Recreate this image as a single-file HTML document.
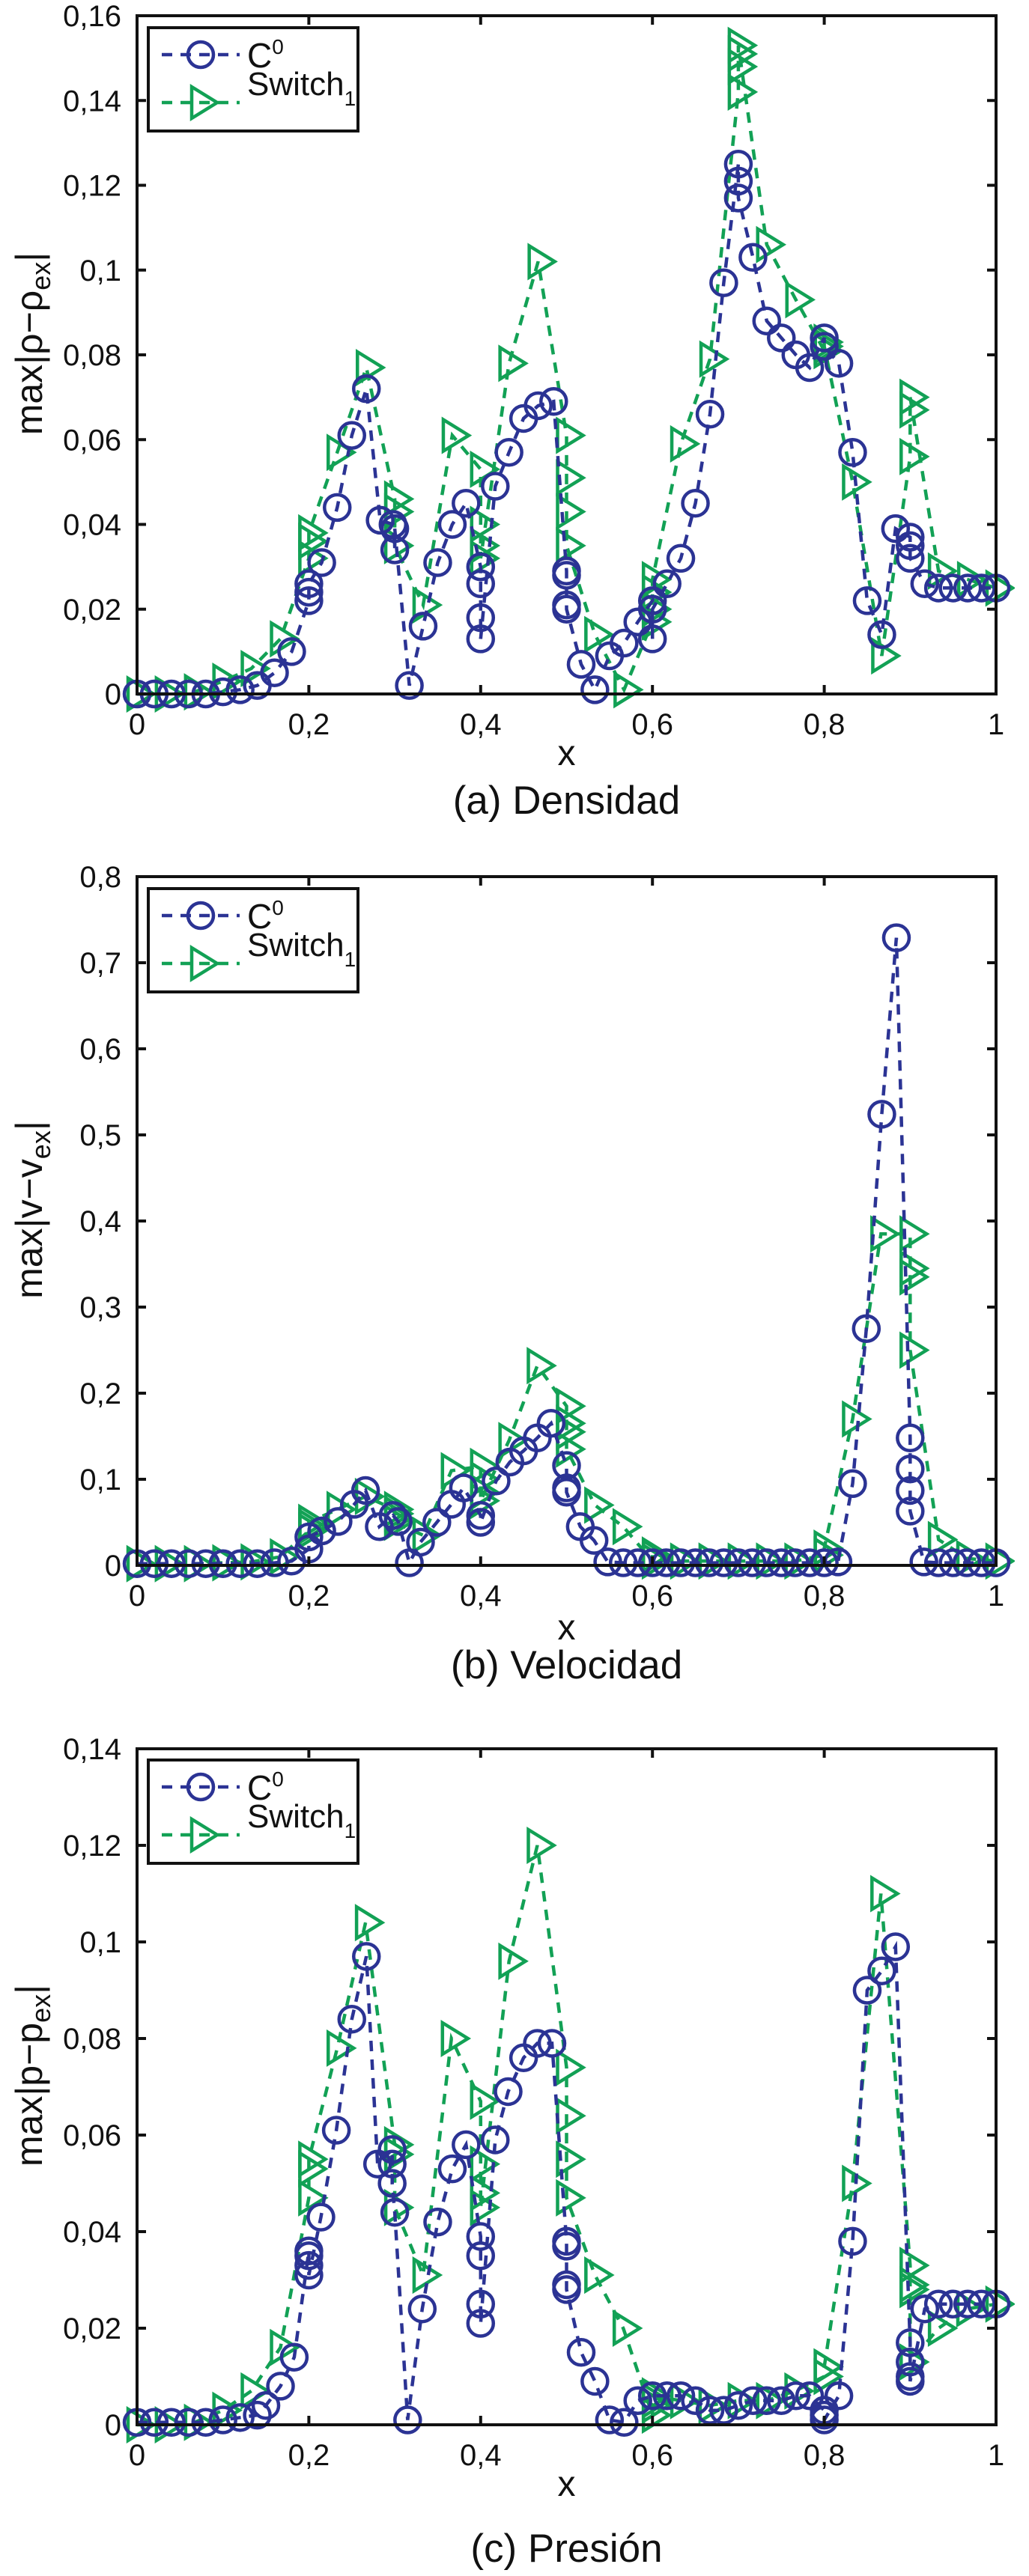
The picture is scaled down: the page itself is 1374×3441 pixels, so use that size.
<!DOCTYPE html>
<html><head><meta charset="utf-8">
<style>
html,body{margin:0;padding:0;background:#fff;}
svg{display:block;font-family:"Liberation Sans",sans-serif;}
</style></head>
<body>
<svg id="fig" width="1374" height="3441" viewBox="0 0 1374 3441" xmlns="http://www.w3.org/2000/svg"></svg>
<script>
// ---------- Plot (a) Densidad ----------
const aC0x=[0,0.02,0.04,0.06,0.08,0.1,0.12,0.14,0.16,0.18,0.2,0.2,0.2,0.215,0.233,0.25,0.267,0.283,0.298,0.3,0.3,0.317,0.333,0.35,0.367,0.383,0.4,0.4,0.4,0.4,0.417,0.433,0.45,0.467,0.485,0.5,0.5,0.5,0.5,0.517,0.533,0.55,0.567,0.583,0.6,0.6,0.6,0.617,0.633,0.65,0.667,0.683,0.7,0.7,0.7,0.717,0.733,0.75,0.767,0.783,0.8,0.8,0.817,0.833,0.85,0.867,0.883,0.9,0.9,0.9,0.917,0.933,0.95,0.967,0.983,1];
const aC0y=[0,0,0,0,0,0.0005,0.001,0.002,0.005,0.010,0.022,0.024,0.026,0.031,0.044,0.061,0.072,0.041,0.040,0.034,0.039,0.002,0.016,0.031,0.040,0.045,0.030,0.026,0.018,0.013,0.049,0.057,0.065,0.068,0.069,0.029,0.028,0.021,0.020,0.007,0.001,0.009,0.012,0.017,0.022,0.013,0.020,0.026,0.032,0.045,0.066,0.097,0.125,0.121,0.117,0.103,0.088,0.084,0.080,0.077,0.084,0.082,0.078,0.057,0.022,0.014,0.039,0.037,0.035,0.032,0.026,0.025,0.025,0.025,0.025,0.025];
const aSwx=[0,0.033,0.067,0.1,0.133,0.167,0.2,0.2,0.2,0.233,0.267,0.3,0.3,0.3,0.333,0.367,0.4,0.4,0.4,0.4,0.433,0.467,0.5,0.5,0.5,0.5,0.533,0.567,0.6,0.6,0.6,0.6,0.633,0.667,0.7,0.7,0.7,0.7,0.733,0.767,0.8,0.8,0.8,0.833,0.867,0.9,0.9,0.9,0.933,0.967,1];
const aSwy=[0,0,0.0005,0.003,0.006,0.013,0.032,0.036,0.038,0.057,0.077,0.046,0.043,0.035,0.021,0.061,0.053,0.040,0.035,0.032,0.078,0.102,0.061,0.051,0.043,0.035,0.014,0.001,0.017,0.020,0.024,0.027,0.059,0.079,0.142,0.148,0.151,0.153,0.106,0.093,0.081,0.083,0.082,0.050,0.009,0.056,0.067,0.070,0.029,0.027,0.025];
const aYTicks=[0,0.02,0.04,0.06,0.08,0.1,0.12,0.14,0.16];
const aYLabels=["0","0,02","0,04","0,06","0,08","0,1","0,12","0,14","0,16"];

// ---------- Plot (b) Velocidad ----------
const bC0x=[0,0.02,0.04,0.06,0.08,0.1,0.12,0.14,0.16,0.18,0.2,0.2,0.215,0.234,0.253,0.266,0.282,0.298,0.304,0.317,0.33,0.349,0.366,0.38,0.4,0.4,0.418,0.434,0.45,0.466,0.482,0.5,0.5,0.5,0.516,0.532,0.548,0.566,0.583,0.6,0.616,0.633,0.65,0.666,0.683,0.7,0.716,0.733,0.75,0.766,0.783,0.8,0.816,0.833,0.849,0.867,0.884,0.9,0.9,0.9,0.9,0.916,0.933,0.95,0.966,0.983,1];
const bC0y=[0.002,0.002,0.002,0.002,0.002,0.002,0.002,0.002,0.003,0.005,0.019,0.033,0.040,0.051,0.071,0.087,0.045,0.058,0.051,0.003,0.027,0.050,0.071,0.090,0.058,0.050,0.098,0.120,0.133,0.148,0.165,0.116,0.090,0.085,0.045,0.029,0.004,0.003,0.003,0.003,0.003,0.003,0.003,0.003,0.003,0.003,0.003,0.003,0.003,0.003,0.003,0.003,0.004,0.095,0.275,0.524,0.729,0.148,0.112,0.087,0.063,0.004,0.003,0.003,0.003,0.003,0.003];
const bSwx=[0,0.033,0.067,0.1,0.133,0.167,0.2,0.2,0.2,0.233,0.266,0.3,0.3,0.3,0.3,0.333,0.366,0.4,0.4,0.4,0.4,0.433,0.466,0.5,0.5,0.5,0.5,0.533,0.566,0.6,0.6,0.6,0.633,0.666,0.7,0.733,0.766,0.8,0.8,0.833,0.866,0.9,0.9,0.9,0.9,0.933,0.966,1];
const bSwy=[0.002,0.002,0.002,0.003,0.004,0.010,0.040,0.045,0.050,0.065,0.080,0.065,0.060,0.055,0.050,0.035,0.110,0.115,0.100,0.085,0.075,0.145,0.232,0.185,0.165,0.155,0.135,0.070,0.045,0.005,0.010,0.012,0.005,0.005,0.005,0.005,0.005,0.012,0.020,0.170,0.385,0.385,0.345,0.335,0.250,0.030,0.008,0.005];
const bYTicks=[0,0.1,0.2,0.3,0.4,0.5,0.6,0.7,0.8];
const bYLabels=["0","0,1","0,2","0,3","0,4","0,5","0,6","0,7","0,8"];

// ---------- Plot (c) Presión ----------
const cC0x=[0,0.02,0.04,0.06,0.08,0.1,0.12,0.14,0.15,0.167,0.183,0.2,0.2,0.2,0.2,0.214,0.232,0.25,0.267,0.28,0.297,0.297,0.297,0.3,0.315,0.332,0.35,0.367,0.383,0.4,0.4,0.4,0.4,0.417,0.432,0.45,0.466,0.483,0.5,0.5,0.5,0.5,0.517,0.533,0.55,0.567,0.583,0.6,0.617,0.633,0.65,0.667,0.683,0.7,0.717,0.733,0.75,0.767,0.783,0.8,0.8,0.8,0.817,0.833,0.85,0.867,0.883,0.9,0.9,0.9,0.9,0.917,0.933,0.95,0.967,0.983,1];
const cC0y=[0.0005,0.0005,0.0005,0.0005,0.0005,0.001,0.0015,0.002,0.004,0.008,0.014,0.036,0.035,0.033,0.031,0.043,0.061,0.084,0.097,0.054,0.057,0.054,0.050,0.044,0.001,0.024,0.042,0.053,0.058,0.039,0.035,0.025,0.021,0.059,0.069,0.076,0.079,0.079,0.038,0.037,0.029,0.028,0.015,0.009,0.001,0.0005,0.005,0.006,0.006,0.006,0.005,0.003,0.003,0.004,0.005,0.005,0.005,0.006,0.006,0.003,0.002,0.001,0.006,0.038,0.090,0.094,0.099,0.017,0.013,0.010,0.009,0.024,0.025,0.025,0.025,0.025,0.025];
const cSwx=[0,0.033,0.067,0.1,0.133,0.167,0.2,0.2,0.2,0.233,0.266,0.3,0.3,0.3,0.333,0.366,0.4,0.4,0.4,0.4,0.433,0.466,0.5,0.5,0.5,0.5,0.533,0.566,0.6,0.6,0.6,0.6,0.633,0.666,0.7,0.733,0.766,0.8,0.8,0.833,0.866,0.9,0.9,0.9,0.9,0.933,0.966,1];
const cSwy=[0,0,0.0005,0.003,0.007,0.016,0.047,0.053,0.055,0.078,0.104,0.058,0.056,0.045,0.031,0.080,0.067,0.054,0.048,0.045,0.096,0.120,0.074,0.064,0.055,0.047,0.031,0.020,0.002,0.004,0.005,0.006,0.005,0.004,0.005,0.005,0.007,0.010,0.012,0.050,0.110,0.033,0.029,0.028,0.013,0.020,0.024,0.025];
const cYTicks=[0,0.02,0.04,0.06,0.08,0.1,0.12,0.14];
const cYLabels=["0","0,02","0,04","0,06","0,08","0,1","0,12","0,14"];

const xTicks=[0,0.2,0.4,0.6,0.8,1];
const xLabels=["0","0,2","0,4","0,6","0,8","1"];

const NS="http://www.w3.org/2000/svg";
const fig=document.getElementById('fig');
const BLUE="#2b3394", GREEN="#12a155";
function mk(tag,attrs,parent){const e=document.createElementNS(NS,tag);for(const k in attrs)e.setAttribute(k,attrs[k]);(parent||fig).appendChild(e);return e;}

function drawPlot(cfg){
  const L=183,R=1330,T=cfg.top,B=cfg.bottom;
  const sx=v=>L+v*(R-L);
  const sy=v=>B-(v/cfg.ymax)*(B-T);
  const g=mk('g',{});
  
  
  const clipId='clip-'+cfg.name;
  const cp=mk('clipPath',{id:clipId},g);
  mk('rect',{x:L-25,y:T-25,width:R-L+50,height:B-T+50},cp);
  function series(xs,ys,color,marker,sname){
    const sg=mk('g',{'clip-path':'url(#'+clipId+')'},g);
    
    
    let d='';
    for(let i=0;i<xs.length;i++){d+=(i?'L':'M')+sx(xs[i]).toFixed(1)+' '+sy(ys[i]).toFixed(1);}
    const ln=mk('path',{d:d,fill:'none',stroke:color,'stroke-width':4.5,'stroke-dasharray':'14 11'},sg);
    
    
    for(let i=0;i<xs.length;i++){
      const px=sx(xs[i]),py=sy(ys[i]);
      let m;
      if(marker==='o'){m=mk('circle',{cx:px,cy:py,r:17,fill:'none',stroke:color,'stroke-width':4.5},sg);}
      else{m=mk('polygon',{points:(px-12)+','+(py-21)+' '+(px+22)+','+py+' '+(px-12)+','+(py+21),fill:'none',stroke:color,'stroke-width':4.5},sg);}
      
      
    }
  }
  series(cfg.swx,cfg.swy,GREEN,'t','switch1');
  series(cfg.c0x,cfg.c0y,BLUE,'o','c0');
  const fr=mk('rect',{x:L,y:T,width:R-L,height:B-T,fill:'none',stroke:'#111','stroke-width':4},g);
  
  
  for(let i=0;i<cfg.yt.length;i++){
    const y=sy(cfg.yt[i]);
    mk('line',{x1:L,x2:L+12,y1:y,y2:y,stroke:'#111','stroke-width':4},g);
    mk('line',{x1:R-12,x2:R,y1:y,y2:y,stroke:'#111','stroke-width':4},g);
    const t=mk('text',{x:162,y:y+14,'text-anchor':'end','font-size':40,fill:'#111'},g);
    t.textContent=cfg.yl[i];
    
    
  }
  for(let i=0;i<xTicks.length;i++){
    const x=sx(xTicks[i]);
    mk('line',{x1:x,x2:x,y1:B,y2:B-12,stroke:'#111','stroke-width':4},g);
    mk('line',{x1:x,x2:x,y1:T,y2:T+12,stroke:'#111','stroke-width':4},g);
    const t=mk('text',{x:x,y:B+54,'text-anchor':'middle','font-size':40,fill:'#111'},g);
    t.textContent=xLabels[i];
    
    
  }
  const xl=mk('text',{x:(L+R)/2,y:cfg.xlabelY,'text-anchor':'middle','font-size':48,fill:'#111'},g);
  xl.textContent='x';
  
  
  const yl=mk('text',{x:0,y:0,'text-anchor':'middle','font-size':50,fill:'#111',transform:'translate(56,'+((T+B)/2-15)+') rotate(-90)'},g);
  yl.innerHTML='max|'+cfg.yv+'\u2212'+cfg.yv+'<tspan dy="11" font-size="36">ex</tspan><tspan dy="-11">|</tspan>';
  
  
  const ti=mk('text',{x:(L+R)/2,y:cfg.titleY,'text-anchor':'middle','font-size':53,fill:'#111'},g);
  ti.textContent=cfg.title;
  
  
  const lg=mk('g',{},g);
  
  
  const ly=cfg.legTop;
  mk('rect',{x:198,y:ly,width:280,height:138,fill:'#fff',stroke:'#111','stroke-width':4},lg);
  const r1=ly+36,r2=ly+100;
  const e1=mk('g',{},lg);
  
  
  mk('line',{x1:216,x2:320,y1:r1,y2:r1,stroke:BLUE,'stroke-width':4.5,'stroke-dasharray':'14 11'},e1);
  mk('circle',{cx:268,cy:r1,r:17,fill:'none',stroke:BLUE,'stroke-width':4.5},e1);
  const t1=mk('text',{x:330,y:r1+17,'font-size':46,fill:'#111'},e1);
  t1.innerHTML='C<tspan dy="-18" font-size="28">0</tspan>';
  const e2=mk('g',{},lg);
  
  
  mk('line',{x1:216,x2:320,y1:r2,y2:r2,stroke:GREEN,'stroke-width':4.5,'stroke-dasharray':'14 11'},e2);
  mk('polygon',{points:(256)+','+(r2-21)+' '+(290)+','+r2+' '+(256)+','+(r2+21),fill:'none',stroke:GREEN,'stroke-width':4.5},e2);
  const t2=mk('text',{x:330,y:r2-10,'font-size':44,fill:'#111'},e2);
  t2.innerHTML='Switch<tspan dy="14" font-size="28">1</tspan>';
}

drawPlot({name:'density',top:21,bottom:927,ymax:0.16,yt:aYTicks,yl:aYLabels,c0x:aC0x,c0y:aC0y,swx:aSwx,swy:aSwy,xlabelY:1022,titleY:1087,title:'(a) Densidad',yv:'\u03c1',legTop:37});
drawPlot({name:'velocity',top:1171,bottom:2091,ymax:0.8,yt:bYTicks,yl:bYLabels,c0x:bC0x,c0y:bC0y,swx:bSwx,swy:bSwy,xlabelY:2190,titleY:2242,title:'(b) Velocidad',yv:'v',legTop:1187});
drawPlot({name:'pressure',top:2336,bottom:3239,ymax:0.14,yt:cYTicks,yl:cYLabels,c0x:cC0x,c0y:cC0y,swx:cSwx,swy:cSwy,xlabelY:3334,titleY:3422,title:'(c) Presi\u00f3n',yv:'p',legTop:2351});
</script>
</body></html>
